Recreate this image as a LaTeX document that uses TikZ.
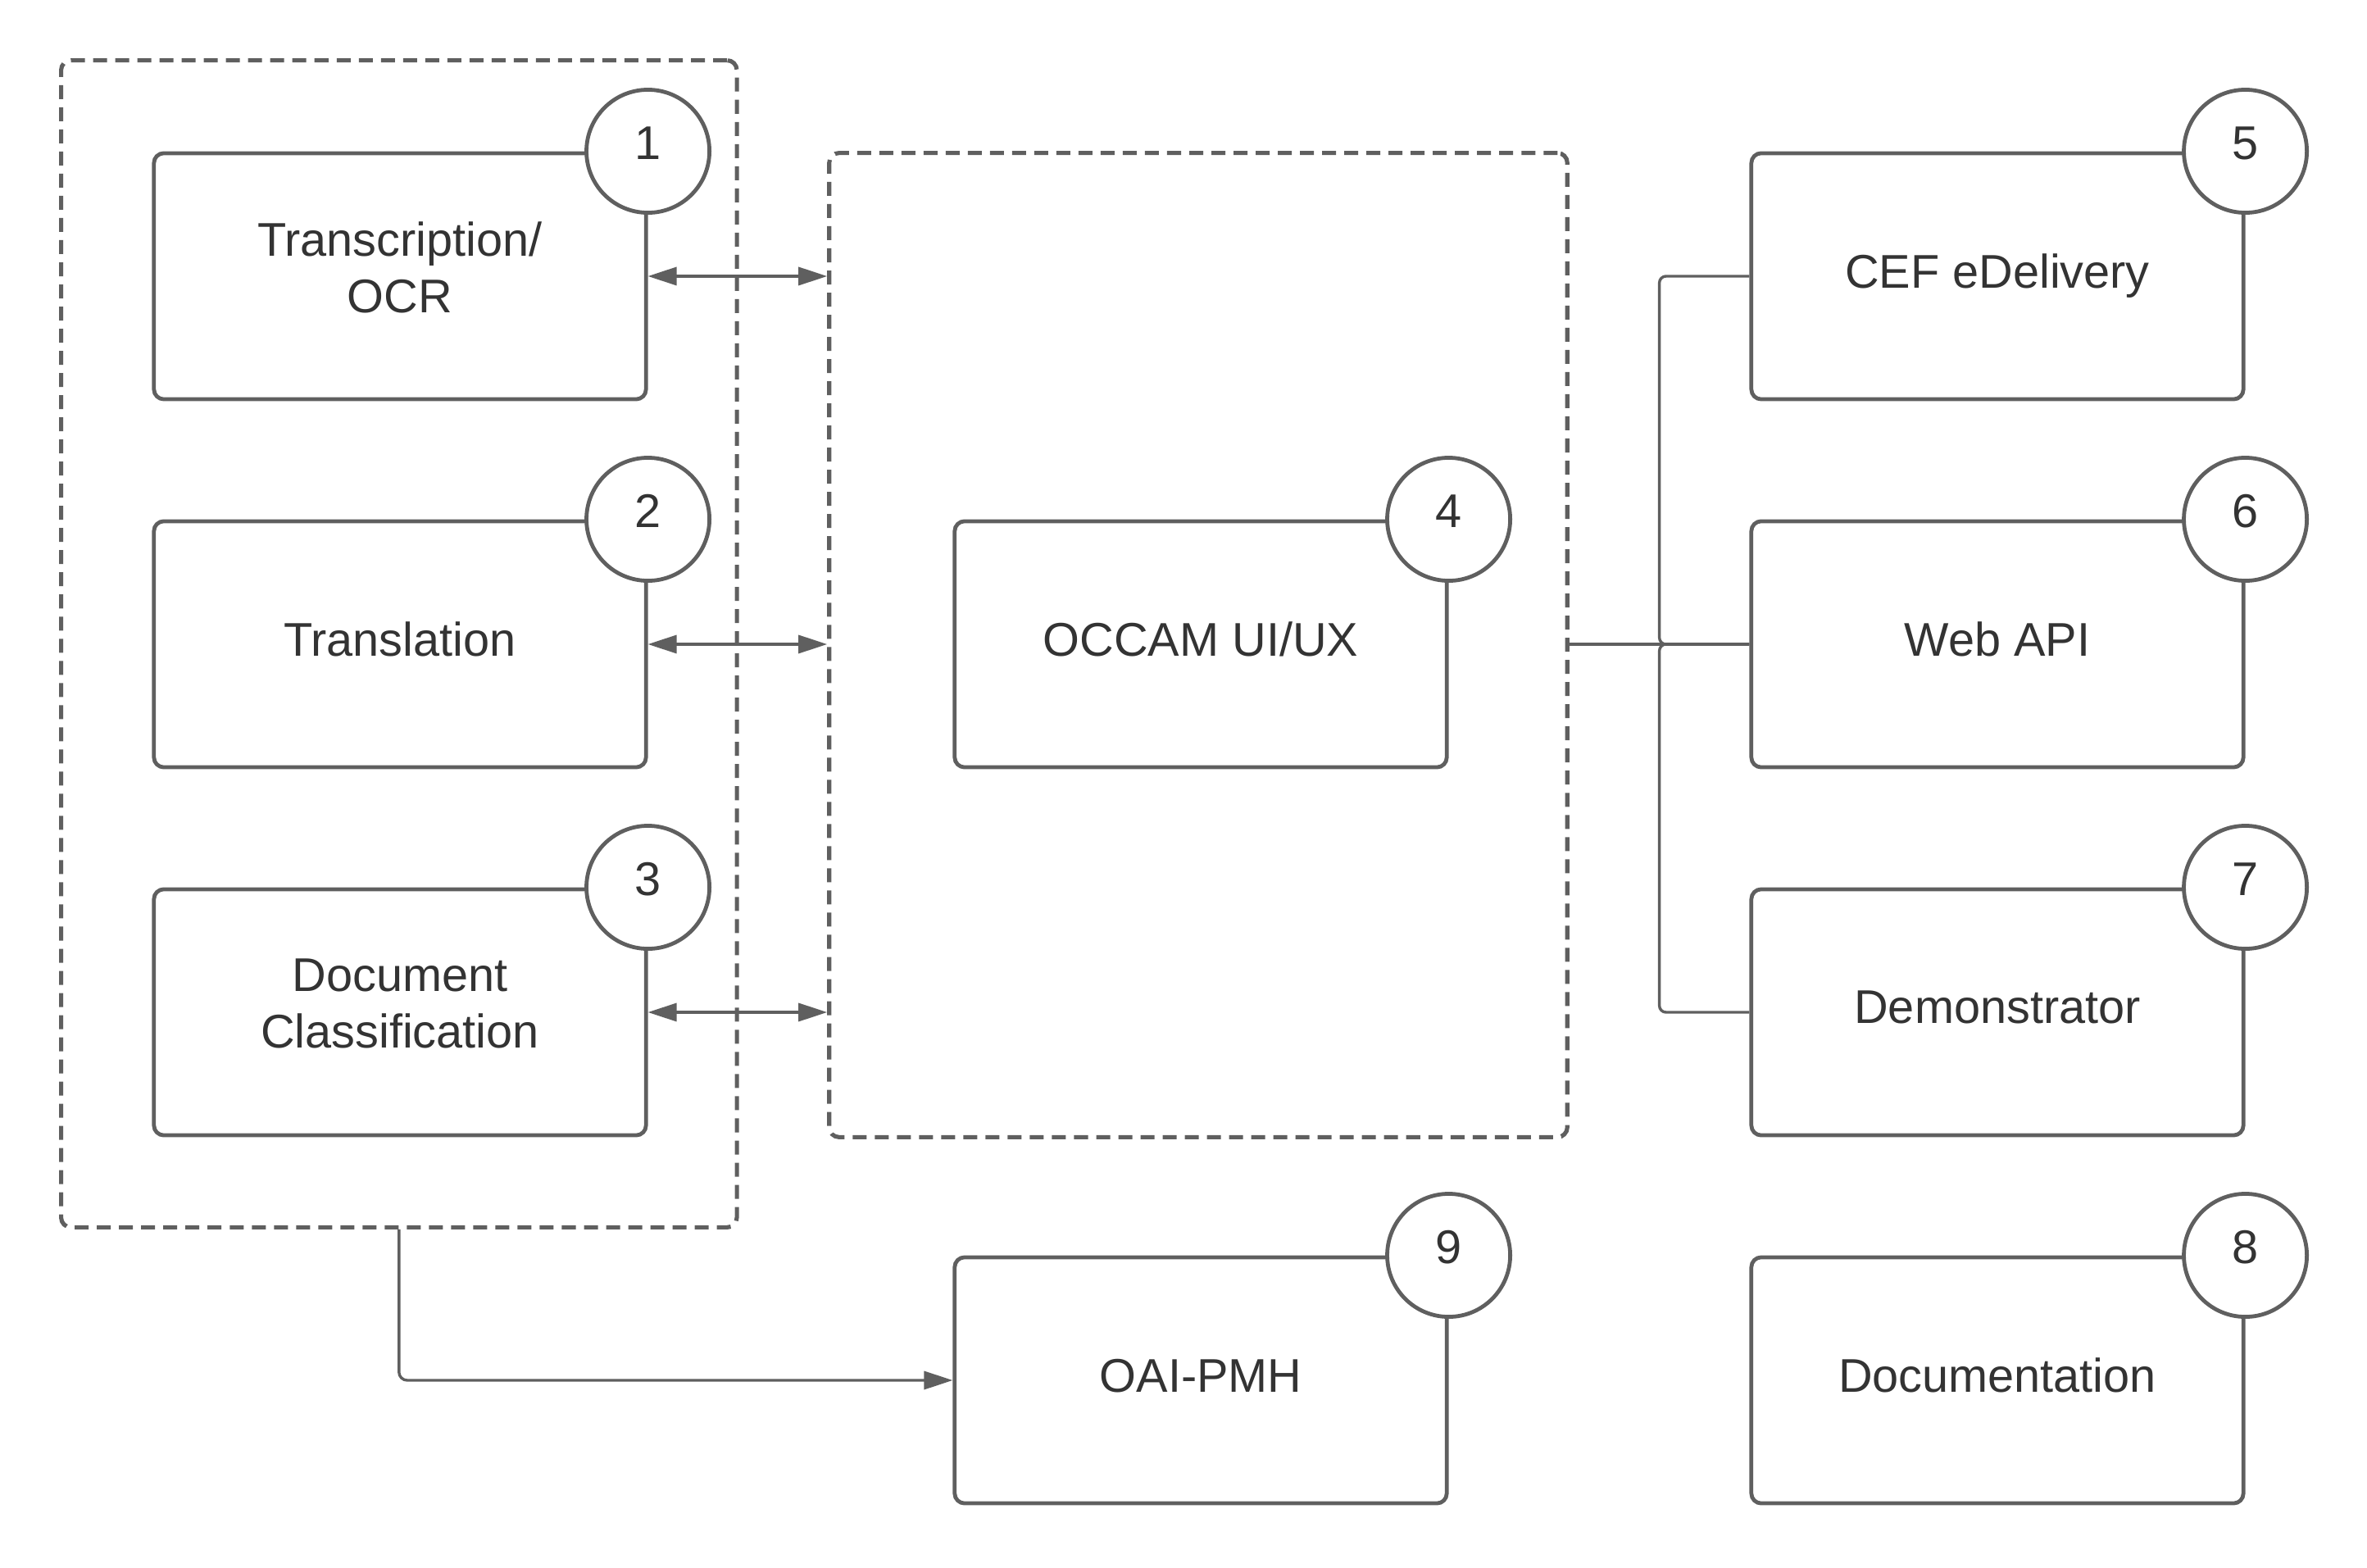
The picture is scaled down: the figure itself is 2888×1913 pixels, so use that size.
\documentclass[tikz,border=0pt]{standalone}
\usepackage{fontspec}
\setmainfont{Liberation Sans}
\usepackage{xcolor}
\usepackage{tikz}
\usetikzlibrary{shapes,arrows.meta,positioning,calc}
\definecolor{linegray}{RGB}{95, 95, 95}
\definecolor{textgray}{RGB}{51, 51, 51}

\begin{document}
\begin{tikzpicture}[
    x=0.01cm, y=-0.01cm,
    box/.style={rectangle, draw=linegray, line width=1.36pt, rounded corners=0.12cm, minimum width=6cm, minimum height=3cm, align=center, text depth=3.4pt, text=textgray, font=\fontsize{16.4}{19.7}\selectfont},
    twoline/.style={text depth=6.2pt},
    badge/.style={circle, draw=linegray, line width=1.36pt, fill=white, minimum size=1.5cm, inner sep=0pt, text depth=5.6pt, text=textgray, font=\fontsize{16.4}{19.7}\selectfont},
    group/.style={rectangle, draw=linegray, line width=1.45pt, dash pattern=on 0.17cm off 0.10cm, rounded corners=0.12cm},
    arrow/.style={line width=0.97pt, linegray, >={Triangle[length=0.35cm, width=0.22cm]}},
    link/.style={line width=0.97pt, linegray}
]
\useasboundingbox (0,0) rectangle (2888,1913);

% dashed groups
\node[group, minimum width=8.24cm, minimum height=14.23cm] (services) at (486.8,785.5) {};
\node[group, minimum width=9cm, minimum height=12cm] (frontend) at (1462,787) {};

\node[box, twoline] (transcription) at (488,337) {Transcription/\\OCR};
\node[box] (translation) at (488,786) {Translation};
\node[box, twoline] (classification) at (488,1235) {Document\\Classification};
\node[box] (occam) at (1465,786) {OCCAM UI/UX};
\node[box] (oaipmh) at (1465,1684) {OAI-PMH};
\node[box] (edelivery) at (2437,337) {CEF eDelivery};
\node[box] (webapi) at (2437,786) {Web API};
\node[box] (demonstrator) at (2437,1235) {Demonstrator};
\node[box] (documentation) at (2437,1684) {Documentation};

% numbers
\node[badge] (n1) at (transcription.north east) {1};
\node[badge] (n2) at (translation.north east) {2};
\node[badge] (n3) at (classification.north east) {3};
\node[badge] (n4) at (occam.north east) {4};
\node[badge] (n5) at (edelivery.north east) {5};
\node[badge] (n6) at (webapi.north east) {6};
\node[badge] (n7) at (demonstrator.north east) {7};
\node[badge] (n8) at (documentation.north east) {8};
\node[badge] (n9) at (oaipmh.north east) {9};

% arrows to the UI
\draw[arrow, <->] (transcription.east) -- (transcription.east -| frontend.west);
\draw[arrow, <->] (translation.east) -- (translation.east -| frontend.west);
\draw[arrow, <->] (classification.east) -- (classification.east -| frontend.west);
\draw[arrow, ->, rounded corners=0.1cm] (services.south) |- (oaipmh.west);

% fork to the outputs
\coordinate (fork) at ($(frontend.east |- webapi.west)!0.5!(webapi.west)$);
\draw[link] (frontend.east |- webapi.west) -- (webapi.west);
\draw[link, rounded corners=0.08cm] (edelivery.west) -| (fork) -- (webapi.west);
\draw[link, rounded corners=0.08cm] (demonstrator.west) -| (fork) -- (webapi.west);

\end{tikzpicture}
\end{document}
